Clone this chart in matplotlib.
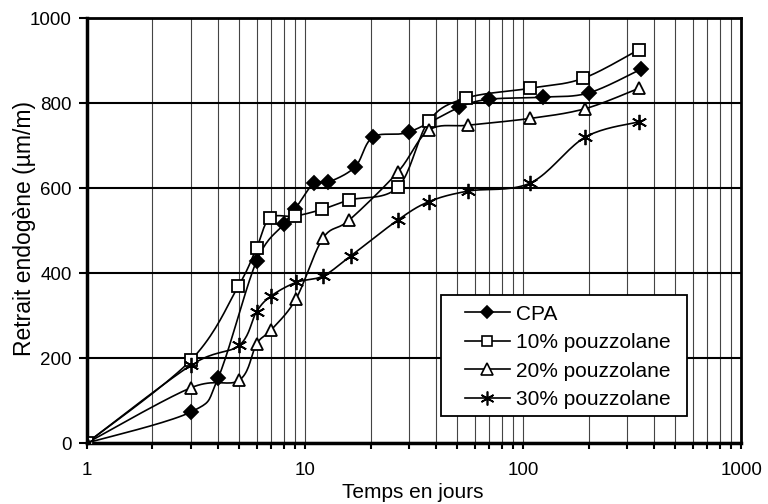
"""
Retrait endogène en fonction du temps (échelle log)
"""

import matplotlib.pyplot as plt
import numpy as np
from matplotlib.patches import Rectangle
from matplotlib.ticker import LogLocator, NullFormatter, FixedLocator

plt.rcParams["font.family"] = ["Liberation Sans", "DejaVu Sans"]

# Valeurs
cpa_t = [1, 3, 4, 6, 8, 9, 11, 12.8, 17, 20.5, 30, 51, 70, 123, 200, 348]
cpa_r = [0, 73, 153, 428, 515, 550, 612, 614, 650, 720, 732, 790, 809, 814, 824, 880]

p10_t = [1, 3, 4.95, 6, 6.9, 9, 12, 16, 26.7, 37, 55, 108, 188, 340]
p10_r = [0, 195, 369, 459, 529, 534, 550, 572, 602, 758, 812, 835, 858, 926]

p20_t = [1, 3, 5, 6, 7, 9.1, 12.1, 16, 26.7, 37, 56, 108, 193, 340]
p20_r = [0, 130, 148, 233, 266, 339, 482, 525, 638, 736, 748, 764, 787, 835]

p30_t = [1, 3, 5, 6, 7, 9.1, 12.1, 16.2, 26.7, 37, 56, 108, 193, 340]
p30_r = [0, 183, 230, 309, 346, 378, 393, 440, 525, 568, 593, 612, 720, 756]

labels = ["CPA", "10% pouzzolane", "20% pouzzolane", "30% pouzzolane"]


def smooth(t, r, n=20):
    # courbe lissée type Excel (Catmull-Rom) en coordonnées log(t)
    x = np.log10(np.asarray(t, float)) / 3.0
    y = np.asarray(r, float) / 1000.0
    px = np.concatenate([[x[0]], x, [x[-1]]])
    py = np.concatenate([[y[0]], y, [y[-1]]])
    xs, ys = [], []
    s = np.linspace(0, 1, n, endpoint=False)
    for i in range(1, len(px) - 2):
        for p, out in ((px, xs), (py, ys)):
            p0, p1, p2, p3 = p[i - 1], p[i], p[i + 1], p[i + 2]
            out.extend(p1 + (p2 - p0) / 2 * s * (1 - s) ** 2
                       + (3 * s ** 2 - 2 * s ** 3) * (p2 - p1)
                       - (p3 - p1) / 2 * s ** 2 * (1 - s))
    xs.append(x[-1])
    ys.append(y[-1])
    return 10 ** (np.array(xs) * 3.0), np.array(ys) * 1000.0


fig = plt.figure(figsize=(7.68, 5.04), dpi=100)
ax = fig.add_axes([0.113, 0.121, 0.852, 0.843])

series = [
    (cpa_t, cpa_r, dict(marker="D", markersize=7, markerfacecolor="black")),
    (p10_t, p10_r, dict(marker="s", markersize=8, markerfacecolor="white")),
    (p20_t, p20_r, dict(marker="^", markersize=9, markerfacecolor="white")),
    (p30_t, p30_r, dict(marker=(6, 2, 0), markersize=11)),
]

for (t, r, style), label in zip(series, labels):
    sx, sy = smooth(t, r)
    ax.plot(sx, sy, color="black", linewidth=1.2, zorder=3)
    ax.plot(t, r, linestyle="none", color="black", markeredgecolor="black",
            markeredgewidth=1.3, zorder=4, **style)
    leg_style = dict(style)
    leg_style["markersize"] = style["markersize"] - 1
    ax.plot([], [], color="black", linewidth=1.2, markeredgecolor="black",
            markeredgewidth=1.2, label=label, **leg_style)

ax.set_xscale("log")
ax.set_xlim(1, 1000)
ax.set_ylim(0, 1000)
ax.xaxis.set_major_locator(FixedLocator([1, 10, 100, 1000]))
ax.set_xticklabels(["1", "10", "100", "1000"])
ax.xaxis.set_minor_locator(LogLocator(base=10, subs=np.arange(2, 10)))
ax.xaxis.set_minor_formatter(NullFormatter())
ax.set_yticks(np.arange(0, 1001, 200))

ax.grid(axis="x", which="both", color="#444444", linewidth=0.8)
ax.grid(axis="y", which="major", color="black", linewidth=1.5)
ax.set_axisbelow(True)

for side in ["left", "bottom"]:
    ax.spines[side].set_linewidth(2.5)
for side in ["top", "right"]:
    ax.spines[side].set_linewidth(2)

ax.tick_params(axis="both", which="both", direction="out", width=1.5,
               labelsize=13.5, colors="black")
ax.tick_params(axis="x", which="both", length=4.5, pad=9)
ax.tick_params(axis="y", length=6, pad=5)

ax.set_xlabel("Temps en jours", fontsize=15)
ax.set_ylabel("Retrait endogène (µm/m)", fontsize=16.5)
ax.xaxis.set_label_coords(0.498, -0.094)
ax.yaxis.set_label_coords(-0.078, 0.505)

# cadre de légende
ax.add_patch(Rectangle((0.541, 0.0635), 0.376, 0.285, transform=ax.transAxes,
                       facecolor="white", edgecolor="black", linewidth=1.3,
                       zorder=5))
leg = ax.legend(loc="upper left", bbox_to_anchor=(0.578, 0.326), fontsize=15,
                frameon=False, handlelength=2.16, handletextpad=0.29,
                borderpad=0, borderaxespad=0, labelspacing=0.46)
leg.set_zorder(6)

fig.savefig("out.png", dpi=100)
